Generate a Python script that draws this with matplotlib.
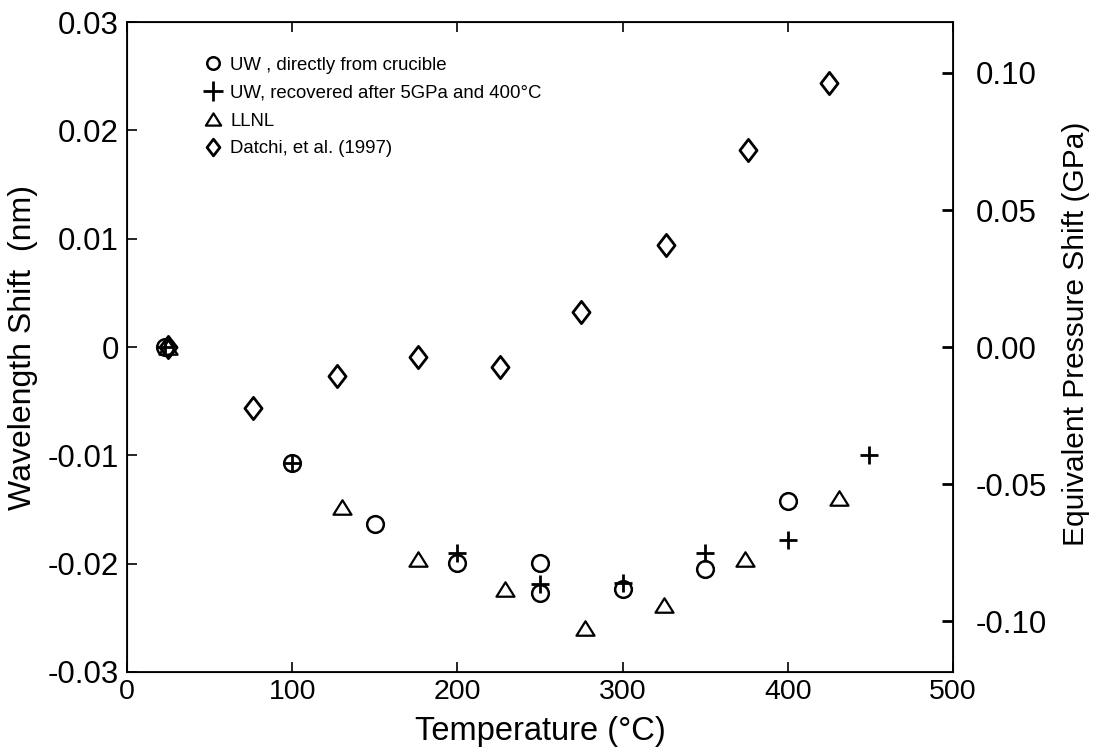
import matplotlib
matplotlib.use("Agg")
import matplotlib.pyplot as plt
from matplotlib.path import Path

plt.rcParams['font.family'] = ['Liberation Sans', 'DejaVu Sans']
plt.rcParams['axes.unicode_minus'] = False

# UW, directly from crucible
uw_direct_t = [23, 100, 150, 200, 250, 250, 300, 350, 400]
uw_direct_y = [0.0, -0.0107, -0.0163, -0.0199, -0.0199, -0.0227, -0.0223, -0.0205, -0.0142]

# UW, recovered after 5GPa and 400C
uw_recov_t = [23, 100, 200, 250, 300, 350, 400, 449]
uw_recov_y = [0.0, -0.0107, -0.0190, -0.0219, -0.0218, -0.0190, -0.0178, -0.0100]

# LLNL
llnl_t = [25, 130, 176, 229, 277, 325, 374, 431]
llnl_y = [0.0, -0.0148, -0.0196, -0.0223, -0.0259, -0.0238, -0.0196, -0.0139]

# Datchi et al. (1997)
datchi_t = [25, 76, 127, 176, 226, 275, 326, 376, 425]
datchi_y = [0.0, -0.0056, -0.0027, -0.0009, -0.0018, 0.0032, 0.0094, 0.0182, 0.0244]

left_ticks = [-0.03, -0.02, -0.01, 0, 0.01, 0.02, 0.03]
left_labels = ['-0.03', '-0.02', '-0.01', '0', '0.01', '0.02', '0.03']
right_ticks = [-0.10, -0.05, 0.0, 0.05, 0.10]
right_labels = ['-0.10', '-0.05', '0.00', '0.05', '0.10']

# marker shapes
tri = Path([(0, 0.8), (1, -0.8), (-1, -0.8), (0, 0.8)],
           [Path.MOVETO, Path.LINETO, Path.LINETO, Path.CLOSEPOLY])
dia = Path([(0, 1), (0.77, 0), (0, -1), (-0.77, 0), (0, 1)],
           [Path.MOVETO, Path.LINETO, Path.LINETO, Path.LINETO, Path.CLOSEPOLY])

fig = plt.figure(figsize=(10.99, 7.52), dpi=100)
ax = fig.add_axes([0.1156, 0.1064, 0.7516, 0.8643])

common = dict(linestyle='none', markerfacecolor='none', markeredgecolor='black')
ax.plot(uw_direct_t, uw_direct_y, marker='o', markersize=12, markeredgewidth=1.8,
        label='UW , directly from crucible', **common)
ax.plot(uw_recov_t, uw_recov_y, marker='+', markersize=13, markeredgewidth=2.0,
        label='UW, recovered after 5GPa and 400°C', **common)
ax.plot(llnl_t, llnl_y, marker=tri, markersize=13, markeredgewidth=1.6,
        label='LLNL', **common)
ax.plot(datchi_t, datchi_y, marker=dia, markersize=16, markeredgewidth=2.0,
        label='Datchi, et al. (1997)', **common)

ax.set_xlim(0, 500)
ax.set_ylim(-0.03, 0.03)
ax.set_xticks([0, 100, 200, 300, 400, 500])
ax.set_xticklabels(['0', '100', '200', '300', '400', '500'])
ax.set_yticks(left_ticks)
ax.set_yticklabels(left_labels)
ax.tick_params(axis='both', direction='in', length=7, width=1.2)
ax.tick_params(axis='x', top=True, pad=5, labelsize=20.5)
ax.tick_params(axis='y', pad=6, labelsize=22.5)
ax.set_xlabel('Temperature (°C)', fontsize=23.5, labelpad=8)
ax.set_ylabel('Wavelength Shift  (nm)', fontsize=23)
ax.yaxis.set_label_coords(-0.108, 0.5)
for s in ax.spines.values():
    s.set_linewidth(1.3)

ax2 = ax.twinx()
ax2.set_ylim(-0.1186, 0.1186)
ax2.set_yticks(right_ticks)
ax2.set_yticklabels(right_labels)
ax2.tick_params(axis='y', direction='in', labelsize=22.5, length=8, width=2, pad=16)
ax2.set_ylabel('Equivalent Pressure Shift (GPa)', fontsize=21.5)
ax2.yaxis.set_label_coords(1.132, 0.52)

leg = ax.legend(loc='upper left', bbox_to_anchor=(0.072, 0.972), frameon=False,
                fontsize=13.4, handlelength=1.0, handletextpad=0.45,
                labelspacing=0.58, numpoints=1)
# legend symbols are drawn smaller than the plotted points
for h, ms in zip(leg.legend_handles, [9, 14, 11, 12]):
    h.set_markersize(ms)

fig.savefig('out.png', dpi=100)
